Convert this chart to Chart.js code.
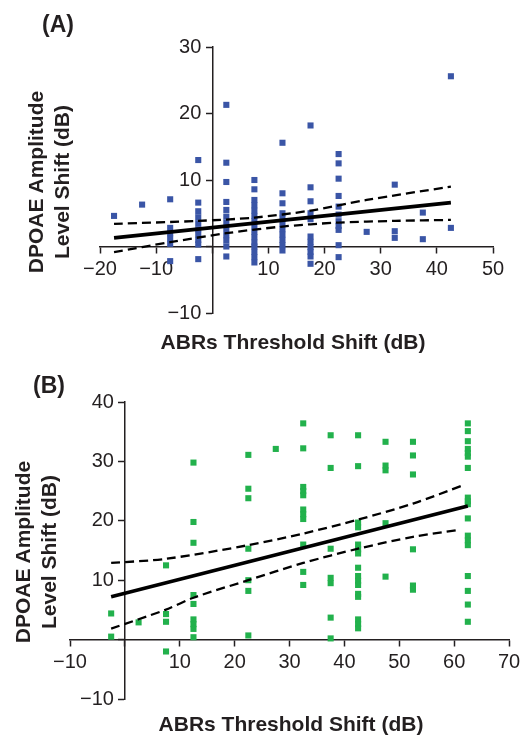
<!DOCTYPE html>
<html>
<head>
<meta charset="utf-8">
<script src="https://cdn.jsdelivr.net/npm/chart.js@4/dist/chart.umd.min.js"></script>
<style>
body { margin:0; background:#fff; width:530px; height:736px; position:relative; overflow:hidden;
       font-family:"Liberation Sans", Arial, sans-serif; color:#231f20; }
canvas { position:absolute; left:0; }
.lbl { position:absolute; font-weight:bold; white-space:nowrap; line-height:1; z-index:2; }
.panel { font-size:23px; }
.xt { font-size:21px; width:400px; text-align:center; }
.yt { font-size:21px; line-height:26px; width:300px; height:52px; text-align:center; transform:rotate(-90deg); }
</style>
</head>
<body>
<canvas id="chartA" width="530" height="368" style="top:0"></canvas>
<canvas id="chartB" width="530" height="368" style="top:368px"></canvas>

<div class="lbl panel" style="left:42px; top:13px">(A)</div>
<div class="lbl xt" style="left:93px; top:331px">ABRs Threshold Shift (dB)</div>
<div class="lbl yt" style="left:-101px; top:156px">DPOAE Amplitude<br>Level Shift (dB)</div>

<div class="lbl panel" style="left:33px; top:374px">(B)</div>
<div class="lbl xt" style="left:91px; top:713px">ABRs Threshold Shift (dB)</div>
<div class="lbl yt" style="left:-114px; top:526px">DPOAE Amplitude<br>Level Shift (dB)</div>

<script>
// panel A : ABR shift columns and the DPOAE level shifts read in each column
const shiftsA = [-17.5, -12.5, -7.5, -2.5, 2.5, 7.5, 12.5, 17.5, 22.5, 27.5, 32.5, 37.5, 42.5];
const levelsA = [
  [4.6],
  [6.3],
  [7.1, 2.8, 2.0, 1.2, 0.4, -2.2],
  [13.0, 6.6, 5.3, 4.4, 3.5, 2.6, 1.8, 1.0, 0.3, -1.9],
  [21.3, 12.6, 9.7, 6.7, 5.5, 4.5, 3.6, 2.6, 1.7, 0.9, 0.0, -1.5],
  [10.0, 8.6, 7.0, 6.2, 5.4, 4.6, 3.8, 3.0, 2.2, 1.4, 0.6, 0.0, -0.8, -1.6, -2.4],
  [15.6, 8.0, 6.5, 5.0, 4.2, 3.4, 2.6, 1.8, 1.0, 0.2, -0.6],
  [18.2, 8.9, 6.8, 5.0, 4.1, 1.5, 0.7, -0.1, -0.8, -1.5, -2.6],
  [13.9, 12.5, 10.2, 7.6, 6.0, 4.8, 3.8, 3.1, 2.5, 0.2, -1.6],
  [2.2],
  [9.3, 2.3, 1.3],
  [5.1, 1.1],
  [25.6, 2.8]
];
const fitXA = [-17.5, 42.5];
const fitYA = [1.3, 6.6];
const upperXA = [-17.5, -2.5, 7.5, 17.5, 27.5, 42.5];
const upperYA = [3.4, 3.85, 4.35, 5.4, 7.0, 9.0];
const lowerXA = [-17.5, -7.5, 2.5, 12.5, 22.5, 32.5, 42.5];
const lowerYA = [-0.85, 0.65, 2.0, 3.0, 3.6, 3.85, 4.0];

// panel B
const shiftsB = [-2.5, 2.5, 7.5, 12.5, 22.5, 27.5, 32.5, 37.5, 42.5, 47.5, 52.5, 62.5];
const levelsB = [
  [4.4, 0.5],
  [2.9],
  [12.5, 4.3, 3.0, -2.0],
  [29.8, 19.8, 16.3, 7.5, 6.0, 3.4, 2.6, 1.8, 0.4],
  [31.1, 25.4, 23.8, 15.3, 10.0, 8.2, 0.7],
  [32.1],
  [36.4, 32.2, 25.7, 25.0, 24.3, 21.9, 21.1, 20.3, 16.0, 11.4, 9.2],
  [34.4, 28.9, 15.3, 10.4, 9.5, 3.7, 0.2],
  [34.4, 29.2, 19.7, 18.9, 16.0, 15.2, 14.5, 12.1, 10.7, 9.9, 9.2, 7.7, 7.2, 3.4, 2.6, 1.9],
  [33.3, 29.3, 28.5, 19.6, 10.6],
  [33.3, 31.0, 27.8, 15.2, 9.1, 8.4],
  [36.4, 35.1, 33.4, 32.1, 31.4, 30.8, 28.9, 23.9, 23.3, 22.8, 20.4, 17.5, 16.7, 15.9, 10.7, 8.2, 5.9, 3.0]
];
const fitXB = [-2.5, 62.5];
const fitYB = [7.2, 22.5];
const upperXB = [-2.5, 7.5, 22.5, 32.5, 42.5, 52.5, 62];
const upperYB = [12.9, 13.6, 15.9, 17.85, 20.2, 22.9, 26.1];
const lowerXB = [-2.5, 7.5, 12.5, 22.5, 32.5, 42.5, 52.5, 61];
const lowerYB = [1.85, 5.05, 7.05, 10.0, 12.9, 15.3, 17.3, 18.5];

const ink = '#231f20';
const tickFont = {family: 'Liberation Sans', size: 20};

function pairs(xs, ys) {
  return xs.map((x, i) => ({x: x, y: ys[i]}));
}
function columns(xs, cols) {
  const pts = [];
  xs.forEach((x, i) => cols[i].forEach(y => pts.push({x: x, y: y})));
  return pts;
}
function tickText(v) {
  if (v === 0) return '';
  return v < 0 ? '\u2212' + Math.abs(v) : String(v);
}

function makeChart(id, o) {
  const lineBase = {type: 'line', showLine: true, pointRadius: 0, borderColor: '#000', fill: false, tension: 0.3};
  return new Chart(document.getElementById(id), {
    type: 'scatter',
    data: {
      datasets: [
        Object.assign({}, lineBase, {data: o.fit, borderWidth: 3.6, tension: 0}),
        Object.assign({}, lineBase, {data: o.upper, borderWidth: 2.3, borderDash: [9, 5]}),
        Object.assign({}, lineBase, {data: o.lower, borderWidth: 2.3, borderDash: [9, 5]}),
        {data: o.points, pointStyle: 'rect', pointRadius: 4.3, pointBorderWidth: 0,
         backgroundColor: o.color, borderColor: o.color}
      ]
    },
    options: {
      responsive: false,
      animation: false,
      layout: {padding: o.pad},
      plugins: {legend: {display: false}, tooltip: {enabled: false}},
      scales: {
        x: {
          type: 'linear', min: o.xmin, max: o.xmax,
          position: {y: 0},
          afterFit: s => { s.height = 0; },
          border: {display: true, color: ink, width: 1.5},
          grid: {display: true, drawOnChartArea: false, drawTicks: true, tickLength: 6, color: ink, tickWidth: 1.5},
          ticks: {stepSize: 10, padding: 5, color: ink, font: tickFont, callback: tickText, maxRotation: 0, autoSkip: false}
        },
        // axis line and tick marks
        y: {
          type: 'linear', min: o.ymin, max: o.ymax,
          position: {x: 0},
          afterFit: s => { s.width = 0; },
          border: {display: true, color: ink, width: 1.5},
          grid: {display: true, drawOnChartArea: false, drawTicks: true, tickLength: 6, color: ink, tickWidth: 1.5},
          ticks: {stepSize: 10, color: ink, font: tickFont, callback: () => ''}
        },
        // tick labels, set a little left of the axis line
        yl: {
          type: 'linear', axis: 'y', min: o.ymin, max: o.ymax,
          position: {x: o.labelX},
          afterFit: s => { s.width = 0; },
          border: {display: false},
          grid: {display: false},
          ticks: {stepSize: 10, color: ink, font: tickFont, callback: tickText}
        }
      }
    }
  });
}

makeChart('chartA', {
  points: columns(shiftsA, levelsA),
  fit: pairs(fitXA, fitYA), upper: pairs(upperXA, upperYA), lower: pairs(lowerXA, lowerYA),
  color: '#3a55a6',
  xmin: -20, xmax: 50, ymin: -10, ymax: 30, labelX: -1.95,
  pad: {left: 100, right: 37, top: 47, bottom: 55}
});

makeChart('chartB', {
  points: columns(shiftsB, levelsB),
  fit: pairs(fitXB, fitYB), upper: pairs(upperXB, upperYB), lower: pairs(lowerXB, lowerYB),
  color: '#22b14c',
  xmin: -10, xmax: 70, ymin: -10, ymax: 40, labelX: -2.0,
  pad: {left: 70, right: 21, top: 34, bottom: 37}
});
</script>
</body>
</html>
